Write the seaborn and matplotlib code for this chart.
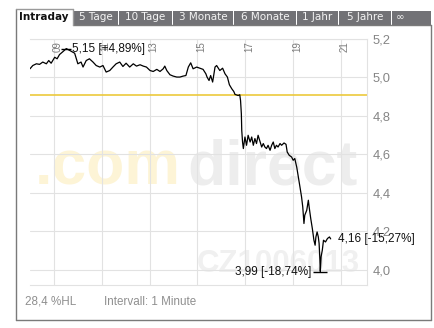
import matplotlib
matplotlib.use("Agg")
import matplotlib.pyplot as plt
import seaborn as sns
import pandas as pd
from matplotlib import transforms
from matplotlib.patches import Rectangle
from matplotlib.lines import Line2D

# ---------------- data ----------------
times = ["08:00", "08:07", "08:16", "08:24", "08:32", "08:41", "08:47", "08:53", "09:02", "09:08",
         "09:14", "09:23", "09:31", "09:40", "09:52", "10:00", "10:08", "10:13", "10:21", "10:29",
         "10:38", "10:46", "10:55", "11:03", "11:11", "11:20", "11:28", "11:36", "11:45", "11:53",
         "12:01", "12:10", "12:19", "12:27", "12:36", "12:44", "12:52", "13:01", "13:09", "13:18",
         "13:26", "13:34", "13:38", "13:43", "13:51", "13:59", "14:08", "14:16", "14:24", "14:31",
         "14:37", "14:43", "14:49", "14:58", "15:06", "15:14", "15:21", "15:24", "15:29", "15:33",
         "15:38", "15:44", "15:48", "15:56", "16:03", "16:09", "16:15", "16:20", "16:26", "16:31",
         "16:34", "16:42", "16:46", "16:48", "16:50", "16:51", "16:53", "16:55", "16:59", "17:03",
         "17:07", "17:12", "17:16", "17:20", "17:24", "17:28", "17:32", "17:37", "17:41", "17:45",
         "17:49", "17:53", "17:57", "18:02", "18:06", "18:10", "18:14", "18:18", "18:22", "18:27",
         "18:31", "18:37", "18:42", "18:45", "18:50", "18:56", "19:00", "19:04", "19:09", "19:13",
         "19:17", "19:21", "19:24", "19:27", "19:29", "19:34", "19:38", "19:40", "19:44", "19:48",
         "19:52", "19:55", "19:57", "20:00", "20:03", "20:05", "20:06", "20:07", "20:08", "20:10",
         "20:13", "20:16", "20:21", "20:26", "20:31", "20:34"]
prices = [5.045, 5.062, 5.071, 5.068, 5.080, 5.071, 5.088, 5.074, 5.105, 5.097,
          5.119, 5.135, 5.150, 5.140, 5.126, 5.071, 5.080, 5.054, 5.088, 5.097,
          5.080, 5.062, 5.054, 5.062, 5.028, 5.036, 5.054, 5.071, 5.080, 5.057,
          5.074, 5.054, 5.071, 5.059, 5.066, 5.059, 5.054, 5.036, 5.031, 5.042,
          5.031, 5.045, 5.059, 5.036, 5.014, 5.007, 5.002, 5.002, 5.007, 5.010,
          5.054, 5.076, 5.045, 5.054, 5.048, 5.042, 5.019, 5.002, 4.984, 5.010,
          4.976, 5.054, 5.062, 5.036, 5.048, 5.019, 5.002, 4.962, 4.941, 4.927,
          4.912, 4.906, 4.910, 4.880, 4.811, 4.725, 4.664, 4.630, 4.690, 4.647,
          4.699, 4.664, 4.690, 4.647, 4.682, 4.656, 4.699, 4.664, 4.638, 4.656,
          4.638, 4.630, 4.647, 4.621, 4.647, 4.664, 4.630, 4.647, 4.638, 4.656,
          4.647, 4.659, 4.652, 4.612, 4.595, 4.586, 4.569, 4.578, 4.532, 4.482,
          4.430, 4.378, 4.326, 4.240, 4.283, 4.309, 4.361, 4.326, 4.266, 4.214,
          4.153, 4.127, 4.170, 4.196, 4.170, 4.136, 4.093, 4.050, 3.990, 4.067,
          4.101, 4.153, 4.144, 4.162, 4.170, 4.160]
prev_close = 4.91

hour_ticks = [9, 11, 13, 15, 17, 19, 21]
hour_labels = ["09", "11", "13", "15", "17", "19", "21"]
price_ticks = [4.0, 4.2, 4.4, 4.6, 4.8, 5.0, 5.2]
price_labels = ["4,0", "4,2", "4,4", "4,6", "4,8", "5,0", "5,2"]

tab_labels = ["Intraday", "5 Tage", "10 Tage", "3 Monate", "6 Monate", "1 Jahr", "5 Jahre", "\u221e"]
high_label = "5,15 [+4,89%]"
low_label = "3,99 [-18,74%]"
last_label = "4,16 [-15,27%]"
range_label = "28,4 %HL"
interval_label = "Intervall: 1 Minute"
wm_part1, wm_part2 = ".com", "direct"
wm_code = "CZ1006013"

# ---------------- figure ----------------
sns.set_style("white")
plt.rcParams["font.family"] = ["Liberation Sans", "DejaVu Sans"]

W, H = 434, 328
fig = plt.figure(figsize=(W / 100, H / 100), dpi=100)
fig.patch.set_facecolor("white")


def fx(x):
    return x / W


def fy(y):
    return 1 - y / H


ax = fig.add_axes([fx(30), fy(285), (367 - 30) / W, (285 - 39) / H])
ax.patch.set_alpha(0)

hours = [int(s[:2]) + int(s[3:]) / 60 for s in times]
df = pd.DataFrame({"t": hours, "price": prices})

ax.axhline(prev_close, color="#ecc93c", lw=1.2, zorder=1.5)
sns.lineplot(data=df, x="t", y="price", ax=ax, color="black", lw=0.9,
             estimator=None, sort=False, zorder=3)

ax.set_xlim(8.0, 22.085)
ax.set_ylim(3.92, 5.2)
ax.set_xlabel("")
ax.set_ylabel("")
ax.set_axisbelow(True)
ax.grid(True, color="#e2e2e2", lw=0.8)
ax.set_xticks(hour_ticks)
ax.set_xticklabels([])
ax.tick_params(axis="x", length=0)
ax.yaxis.tick_right()
ax.set_yticks(price_ticks)
ax.set_yticklabels(price_labels)
ax.tick_params(axis="y", length=0, pad=4, labelsize=9.3, labelcolor="#858585")
ax.spines["left"].set_visible(False)
for side in ["right", "bottom", "top"]:
    ax.spines[side].set_color("#e2e2e2")
    ax.spines[side].set_linewidth(0.8)

# hour labels, rotated inside at top
blend = transforms.blended_transform_factory(ax.transData, ax.transAxes)
lab_tr = transforms.offset_copy(blend, fig=fig, x=4, y=-2, units="dots")
for t, lab in zip(hour_ticks, hour_labels):
    ax.text(t, 1, lab, transform=lab_tr, rotation=90, ha="center", va="top",
            fontsize=7, color="#7a7a7a", zorder=2)

# watermarks
ax.text(fx(35), fy(185), wm_part1, transform=fig.transFigure, fontsize=45,
        fontweight="bold", color="#fdf4d6", ha="left", va="baseline", zorder=0.1)
ax.text(fx(187), fy(185), wm_part2, transform=fig.transFigure, fontsize=45,
        fontweight="bold", color="#ededed", ha="left", va="baseline", zorder=0.1)
ax.text(fx(197), fy(272), wm_code, transform=fig.transFigure, fontsize=22.5,
        fontweight="bold", color="#f0f0f0", ha="left", va="baseline", zorder=0.1)

# high / low / last annotations
i_max = df["price"].idxmax()
i_min = df["price"].idxmin()
t_max, v_max = df.loc[i_max, "t"], df.loc[i_max, "price"]
t_min, v_min = df.loc[i_min, "t"], df.loc[i_min, "price"]
t_last, v_last = df["t"].iloc[-1], df["price"].iloc[-1]

ax.plot([t_max], [v_max], marker="_", ms=7.5, mew=1.0, color="black", zorder=4)
ax.plot([t_min], [v_min], marker="_", ms=10, mew=1.0, color="black", zorder=4)
ax.annotate(high_label, xy=(t_max, v_max), xytext=(6, 0), textcoords="offset pixels",
            ha="left", va="center", fontsize=8.5, color="#111111", zorder=5)
ax.annotate(low_label, xy=(t_min, v_min), xytext=(-9, 0), textcoords="offset pixels",
            ha="right", va="center", fontsize=8.5, color="#111111", zorder=5)
ax.annotate(last_label, xy=(t_last, v_last), xytext=(7.5, 0), textcoords="offset pixels",
            ha="left", va="center", fontsize=8.5, color="#111111", zorder=5,
            annotation_clip=False)

# bottom info
fig.text(fx(25), fy(302), range_label, ha="left", va="center", fontsize=8.4, color="#8f8f8f")
fig.text(fx(104), fy(302), interval_label, ha="left", va="center", fontsize=8.4, color="#8f8f8f")

# frame box
frame_col = "#7a7a7a"


def fline(xs, ys, col=frame_col, lw=1.0):
    fig.add_artist(Line2D([fx(v) for v in xs], [fy(v) for v in ys], color=col, lw=lw,
                          transform=fig.transFigure))


fline([15.5, 15.5], [8.5, 319.5])
fline([15.5, 430.5], [319.5, 319.5])
fline([430.5, 430.5], [24.5, 319.5])
fline([72.5, 430.5], [24.5, 24.5])
fline([15.5, 72.5], [8.5, 8.5], col="#9a9a9a")
fline([72.5, 72.5], [8.5, 24.5], col="#9a9a9a")

# tabs
gray_tabs = [(74, 118), (119, 172), (173, 233), (234, 296), (297, 338), (339, 391), (392, 431)]
for (x0, x1), lab in zip(gray_tabs, tab_labels[1:]):
    fig.add_artist(Rectangle((fx(x0), fy(24.5)), (x1 - x0) / W, 13.5 / H,
                             transform=fig.transFigure, facecolor="#727276",
                             edgecolor="none"))
    if lab == "\u221e":
        fig.text(fx(x0 + 4), fy(17.5), lab, ha="left", va="center", fontsize=7.5,
                 color="#f4f4f4", family="DejaVu Sans")
    else:
        fig.text(fx((x0 + x1) / 2), fy(17.5), lab, ha="center", va="center",
                 fontsize=7.5, color="#f4f4f4", family="DejaVu Sans")
fig.text(fx(43.5), fy(17), tab_labels[0], ha="center", va="center", fontsize=7.5,
         fontweight="bold", color="#111111", family="DejaVu Sans")

fig.savefig("out.png", dpi=100, facecolor="white")
